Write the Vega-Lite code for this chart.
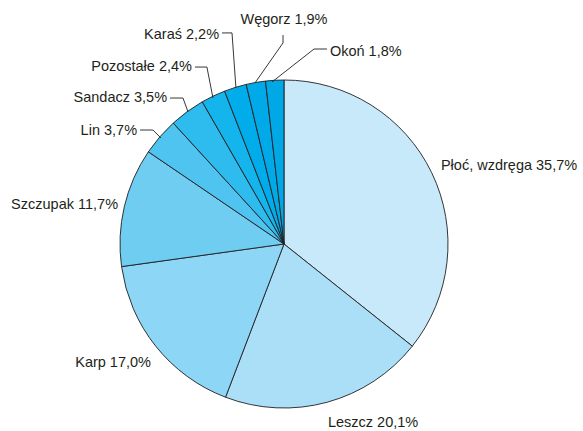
{
  "$schema": "https://vega.github.io/schema/vega-lite/v6.json",
  "width": 583,
  "height": 431,
  "autosize": {"type": "none"},
  "padding": 0,
  "background": "white",
  "config": {"view": {"stroke": null}, "text": {"font": "Liberation Sans", "fontSize": 14.5, "fill": "#231f20", "baseline": "middle"}},
  "datasets": {
    "slices": [
      {"idx": 1, "name": "Płoć, wzdręga", "value": 35.7, "label": "Płoć, wzdręga 35,7%", "lx": 0.957, "ly": 0.476},
      {"idx": 2, "name": "Leszcz", "value": 20.1, "label": "Leszcz 20,1%", "lx": 0.268, "ly": -1.091},
      {"idx": 3, "name": "Karp", "value": 17.0, "label": "Karp 17,0%", "lx": -0.811, "ly": -0.726},
      {"idx": 4, "name": "Szczupak", "value": 11.7, "label": "Szczupak 11,7%", "lx": -1.012, "ly": 0.238},
      {"idx": 5, "name": "Lin", "value": 3.7, "label": "Lin 3,7%", "lx": -0.896, "ly": 0.689},
      {"idx": 6, "name": "Sandacz", "value": 3.5, "label": "Sandacz 3,5%", "lx": -0.713, "ly": 0.890},
      {"idx": 7, "name": "Pozostałe", "value": 2.4, "label": "Pozostałe 2,4%", "lx": -0.561, "ly": 1.079},
      {"idx": 8, "name": "Karaś", "value": 2.2, "label": "Karaś 2,2%", "lx": -0.396, "ly": 1.274},
      {"idx": 9, "name": "Węgorz", "value": 1.9, "label": "Węgorz 1,9%", "lx": 0.0, "ly": 1.366},
      {"idx": 10, "name": "Okoń", "value": 1.8, "label": "Okoń 1,8%", "lx": 0.280, "ly": 1.171}
    ],
    "leaders": [
      {"name": "Lin", "p": 1, "x": -0.878, "y": 0.695},
      {"name": "Lin", "p": 2, "x": -0.799, "y": 0.695},
      {"name": "Lin", "p": 3, "x": -0.750, "y": 0.646},
      {"name": "Sandacz", "p": 1, "x": -0.695, "y": 0.890},
      {"name": "Sandacz", "p": 2, "x": -0.616, "y": 0.890},
      {"name": "Sandacz", "p": 3, "x": -0.585, "y": 0.805},
      {"name": "Pozostałe", "p": 1, "x": -0.543, "y": 1.079},
      {"name": "Pozostałe", "p": 2, "x": -0.470, "y": 1.079},
      {"name": "Pozostałe", "p": 3, "x": -0.433, "y": 0.890},
      {"name": "Karaś", "p": 1, "x": -0.378, "y": 1.287},
      {"name": "Karaś", "p": 2, "x": -0.317, "y": 1.287},
      {"name": "Karaś", "p": 3, "x": -0.293, "y": 0.951},
      {"name": "Węgorz", "p": 1, "x": -0.006, "y": 1.274},
      {"name": "Węgorz", "p": 2, "x": -0.006, "y": 1.226},
      {"name": "Węgorz", "p": 3, "x": -0.177, "y": 0.982},
      {"name": "Okoń", "p": 1, "x": 0.262, "y": 1.189},
      {"name": "Okoń", "p": 2, "x": 0.183, "y": 1.189},
      {"name": "Okoń", "p": 3, "x": -0.073, "y": 0.988}
    ]
  },
  "layer": [
    {
      "data": {"name": "slices"},
      "mark": {"type": "arc", "outerRadius": 164, "stroke": "#231f20", "strokeWidth": 0.9},
      "encoding": {
        "x": {"datum": 0, "type": "quantitative", "scale": {"domain": [-1.7317, 1.8232], "nice": false, "zero": false}, "axis": null},
        "y": {"datum": 0, "type": "quantitative", "scale": {"domain": [-1.1402, 1.4878], "nice": false, "zero": false}, "axis": null},
        "theta": {"field": "value", "type": "quantitative", "stack": true},
        "order": {"field": "idx", "type": "quantitative"},
        "color": {
          "field": "name", "type": "nominal", "legend": null,
          "scale": {
            "domain": ["Płoć, wzdręga", "Leszcz", "Karp", "Szczupak", "Lin", "Sandacz", "Pozostałe", "Karaś", "Węgorz", "Okoń"],
            "range": ["#c7e9f9", "#abdff8", "#8dd6f5", "#6fcdf2", "#4fc4f0", "#2ebcee", "#14b4ec", "#00adea", "#00aae8", "#00a8e6"]
          }
        }
      }
    },
    {
      "data": {"name": "leaders"},
      "mark": {"type": "line", "stroke": "#231f20", "strokeWidth": 0.9},
      "encoding": {
        "x": {"field": "x", "type": "quantitative", "axis": null},
        "y": {"field": "y", "type": "quantitative", "axis": null},
        "detail": {"field": "name"},
        "order": {"field": "p", "type": "quantitative"}
      }
    },
    {
      "data": {"name": "slices"},
      "transform": [{"filter": {"field": "name", "oneOf": ["Płoć, wzdręga", "Leszcz", "Okoń"]}}],
      "mark": {"type": "text", "align": "left"},
      "encoding": {
        "x": {"field": "lx", "type": "quantitative"},
        "y": {"field": "ly", "type": "quantitative"},
        "text": {"field": "label"}
      }
    },
    {
      "data": {"name": "slices"},
      "transform": [{"filter": {"field": "name", "oneOf": ["Karp", "Szczupak", "Lin", "Sandacz", "Pozostałe", "Karaś"]}}],
      "mark": {"type": "text", "align": "right"},
      "encoding": {
        "x": {"field": "lx", "type": "quantitative"},
        "y": {"field": "ly", "type": "quantitative"},
        "text": {"field": "label"}
      }
    },
    {
      "data": {"name": "slices"},
      "transform": [{"filter": {"field": "name", "oneOf": ["Węgorz"]}}],
      "mark": {"type": "text", "align": "center"},
      "encoding": {
        "x": {"field": "lx", "type": "quantitative"},
        "y": {"field": "ly", "type": "quantitative"},
        "text": {"field": "label"}
      }
    }
  ]
}
